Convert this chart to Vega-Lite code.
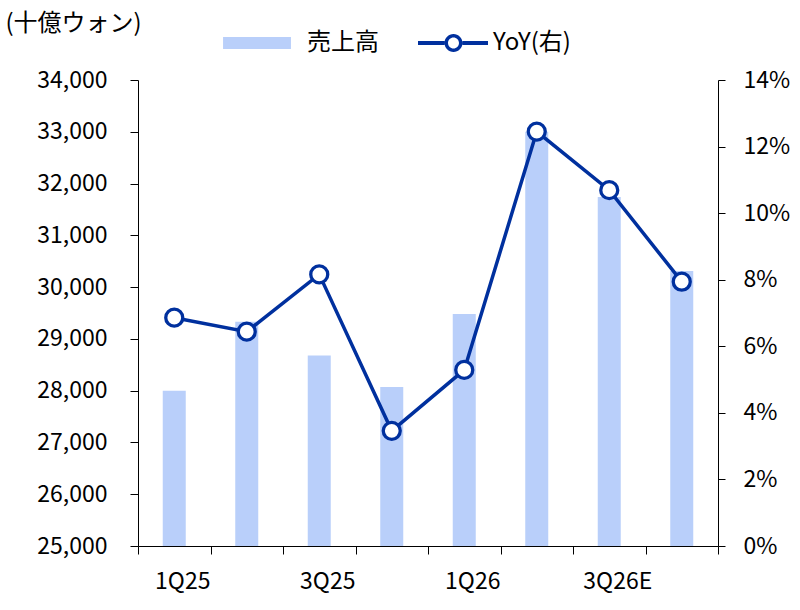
{
  "$schema": "https://vega.github.io/schema/vega-lite/v6.json",
  "width": 580,
  "height": 466,
  "autosize": {"type": "none"},
  "padding": {"left": 138, "top": 80, "right": 82, "bottom": 64},
  "config": {
    "font": "Noto Sans CJK JP",
    "view": {"stroke": null},
    "axis": {
      "grid": false,
      "domainColor": "#000",
      "tickColor": "#000",
      "labelColor": "#000",
      "titleColor": "#000",
      "labelFontSize": 23,
      "titleFontSize": 24,
      "titleFontWeight": "normal"
    },
    "legend": {"labelFontSize": 24, "labelColor": "#000"}
  },
  "data": {
    "values": [
      {"q": "1Q25", "sales": 28000, "yoy": 0.0686},
      {"q": "2Q25", "sales": 29330, "yoy": 0.0644},
      {"q": "3Q25", "sales": 28680, "yoy": 0.0816},
      {"q": "4Q25", "sales": 28070, "yoy": 0.0346},
      {"q": "1Q26", "sales": 29480, "yoy": 0.0529},
      {"q": "2Q26", "sales": 33000, "yoy": 0.1245},
      {"q": "3Q26E", "sales": 31740, "yoy": 0.1069},
      {"q": "4Q26E", "sales": 30310, "yoy": 0.0794}
    ]
  },
  "encoding": {
    "x": {
      "field": "q",
      "type": "nominal",
      "sort": null,
      "scale": {"paddingInner": 0, "paddingOuter": 0},
      "axis": {
        "title": null,
        "labelAngle": 0,
        "tickBand": "extent",
        "tickSize": 8,
        "labelPadding": 16,
        "labelOffset": 8,
        "labelExpr": "indexof(['1Q25','3Q25','1Q26','3Q26E'], datum.value) >= 0 ? datum.value : ''"
      }
    }
  },
  "layer": [
    {
      "mark": {"type": "bar", "width": 23, "clip": true},
      "encoding": {
        "y": {
          "field": "sales",
          "type": "quantitative",
          "scale": {"domain": [25000, 34000], "nice": false, "zero": false},
          "axis": {
            "values": [25000, 26000, 27000, 28000, 29000, 30000, 31000, 32000, 33000, 34000],
            "format": ",.0f",
            "tickSize": 8,
            "labelPadding": 23,
            "title": "(十億ウォン)",
            "titleAngle": 0,
            "titleAlign": "left",
            "titleBaseline": "top",
            "titleX": -133,
            "titleY": -69
          }
        },
        "color": {
          "datum": "売上高",
          "type": "nominal",
          "scale": {"domain": ["売上高", "YoY(右)"], "range": ["#B9CFFA", "#00309E"]},
          "legend": {
            "title": null,
            "orient": "none",
            "direction": "horizontal",
            "legendX": 84,
            "legendY": -72,
            "symbolSize": 4900,
            "symbolStrokeWidth": 0,
            "labelOffset": 15,
            "columnPadding": 29,
            "encode": {
              "symbols": {
                "update": {
                  "shape": {"signal": "datum.value === '売上高' ? 'M-0.97,-0.17H0.97V0.17H-0.97Z' : 'M-0.714,-0.057H0.043V0.057H-0.714Z M0.557,-0.057H1.286V0.057H0.557Z M0.043,0A0.257,0.257,0,1,1,0.557,0A0.257,0.257,0,1,1,0.043,0Z M0.143,0A0.157,0.157,0,1,0,0.457,0A0.157,0.157,0,1,0,0.143,0Z'"},
                  "strokeWidth": {"value": 0},
                  "opacity": {"value": 1},
                  "fillOpacity": {"value": 1}
                }
              }
            }
          }
        }
      }
    },
    {
      "encoding": {
        "y": {
          "field": "yoy",
          "type": "quantitative",
          "scale": {"domain": [0, 0.14], "nice": false},
          "axis": {
            "orient": "right",
            "values": [0, 0.02, 0.04, 0.06, 0.08, 0.1, 0.12, 0.14],
            "format": ".0%",
            "tickSize": 7,
            "labelPadding": 18,
            "title": null
          }
        }
      },
      "layer": [
        {
          "mark": {"type": "line", "strokeWidth": 3.5},
          "encoding": {"color": {"datum": "YoY(右)", "type": "nominal"}}
        },
        {
          "mark": {
            "type": "point",
            "shape": "circle",
            "filled": true,
            "fill": "#ffffff",
            "stroke": "#00309E",
            "strokeWidth": 3.3,
            "size": 289,
            "opacity": 1
          }
        }
      ]
    }
  ],
  "resolve": {"scale": {"y": "independent"}}
}
